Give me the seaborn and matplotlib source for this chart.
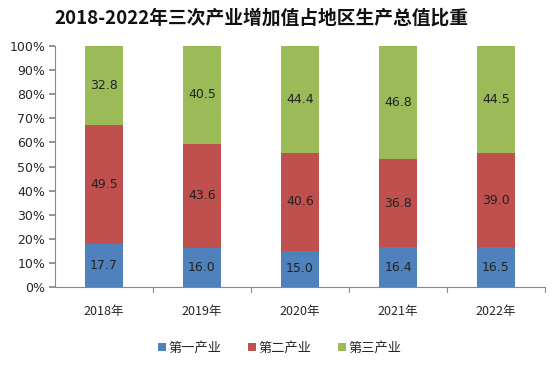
import matplotlib
matplotlib.use("Agg")
import matplotlib.pyplot as plt
import seaborn as sns
import pandas as pd
import numpy as np
from matplotlib.patches import Patch

years = ["2018年", "2019年", "2020年", "2021年", "2022年"]
primary = [17.7, 16.0, 15.0, 16.4, 16.5]
secondary = [49.5, 43.6, 40.6, 36.8, 39.0]
tertiary = [32.8, 40.5, 44.4, 46.8, 44.5]
series_names = ["第一产业", "第二产业", "第三产业"]
colors = ["#4F81BD", "#C0504D", "#9BBB59"]
title = "2018-2022年三次产业增加值占地区生产总值比重"

sns.set_theme(style="white")
plt.rcParams['font.family'] = ['Noto Sans CJK SC', 'DejaVu Sans']

vals = np.array([primary, secondary, tertiary])
pct = vals / vals.sum(axis=0) * 100
cum = np.cumsum(pct, axis=0)

fig = plt.figure(figsize=(5.52, 3.66), dpi=100)
ax = fig.add_axes([55/552, 1-287/366, 490/552, (287-46)/366])

for i in [2, 1, 0]:
    df = pd.DataFrame({"year": years, "v": cum[i]})
    sns.barplot(data=df, x="year", y="v", color=colors[i], saturation=1,
                width=0.39, ax=ax, linewidth=0, edgecolor="none")

for j in range(len(years)):
    for i in range(3):
        base = cum[i-1][j] if i > 0 else 0
        ax.text(j, base + pct[i][j]/2, f"{vals[i][j]:.1f}", ha="center", va="center",
                fontsize=9, color="#222222", family="DejaVu Sans")

ax.set_ylim(0, 100)
ax.set_xlim(-0.5, 4.5)
ax.set_yticks(range(0, 101, 10))
ax.set_yticklabels([f"{t}%" for t in range(0, 101, 10)], fontsize=9, family="DejaVu Sans")
ax.set_xticks(range(5))
ax.set_xticklabels(years, fontsize=9)
ax.set_xlabel("")
ax.set_ylabel("")
ax.tick_params(axis="x", length=0, pad=13)
ax.tick_params(axis="y", length=4, color="#888888", left=True, pad=3)
for x in np.arange(0.5, 5.0, 1.0):
    ax.plot([x, x], [0, -2], color="#888888", lw=0.8, clip_on=False)
for s in ["top", "right"]:
    ax.spines[s].set_visible(False)
for s in ["left", "bottom"]:
    ax.spines[s].set_color("#888888")
    ax.spines[s].set_linewidth(0.8)

fig.text(261/552, 1-18/366, title, ha="center", va="center", fontsize=13.5,
         fontweight="bold", color="#111111")

handles = [Patch(facecolor=c, edgecolor="none") for c in colors]
fig.legend(handles, series_names, loc="center", bbox_to_anchor=(280/552, 1-348/366),
           ncol=3, frameon=False, fontsize=9.5, handlelength=0.6, handleheight=0.6,
           handletextpad=0.2, columnspacing=2.0)

fig.savefig("out.png", dpi=100)
